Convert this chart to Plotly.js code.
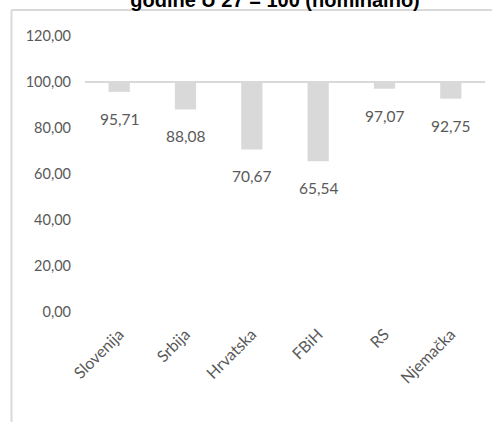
<!DOCTYPE html>
<html>
<head>
<meta charset="utf-8">
<script src="https://cdn.plot.ly/plotly-3.0.1.min.js"></script>
<style>
html,body{margin:0;padding:0;background:#fff;}
#chart{width:492px;height:422px;}
</style>
</head>
<body>
<div id="chart"></div>
<script>
const categories = ["Slovenija", "Srbija", "Hrvatska", "FBiH", "RS", "Njemačka"];
const values = [95.71, 88.08, 70.67, 65.54, 97.07, 92.75];
const baseValue = 100;
const yTicks = [0, 20, 40, 60, 80, 100, 120];
const titleText = "godine U 27 = 100 (nominalno)";

const fmt = v => v.toFixed(2).replace('.', ',');
const grey = '#595959';
const light = '#d9d9d9';
const font = 'Lato, "Open Sans", sans-serif';

const trace = {
  type: 'bar',
  x: categories,
  y: values.map(v => v - baseValue),
  base: values.map(() => baseValue),
  width: 0.32,
  marker: {color: light},
  hoverinfo: 'skip'
};

const annotations = categories.map((c, i) => ({
  x: c, y: values[i], xref: 'x', yref: 'y',
  text: fmt(values[i]), showarrow: false,
  yanchor: 'middle', xanchor: 'center', yshift: -27,
  font: {family: font, size: 15.5, color: grey}
}));

const layout = {
  width: 492, height: 422,
  margin: {l: 86, r: 8, t: 36, b: 110},
  paper_bgcolor: '#fff', plot_bgcolor: '#fff',
  separators: ',.',
  showlegend: false,
  title: {
    text: titleText,
    xref: 'container', yref: 'container',
    x: 0.559, xanchor: 'center', y: 1.0, yanchor: 'middle',
    font: {family: '"Liberation Sans", Arial, sans-serif', size: 20, color: '#000', weight: 'bold'}
  },
  xaxis: {
    type: 'category',
    range: [-0.5, 5.5],
    tickangle: -45,
    ticks: '',
    showline: false, showgrid: false, zeroline: false,
    tickfont: {family: font, size: 16, color: grey},
    ticklabelstandoff: 9
  },
  yaxis: {
    range: [0, 120],
    tickvals: yTicks,
    tickformat: '.2f',
    ticks: '',
    showline: false, showgrid: false, zeroline: false,
    tickfont: {family: font, size: 14.5, color: grey},
    ticklabelstandoff: 14
  },
  shapes: [
    {type: 'line', xref: 'paper', yref: 'y', x0: -0.003, x1: 1.003, y0: baseValue, y1: baseValue,
     line: {color: light, width: 2}, layer: 'above'},
    {type: 'line', xref: 'paper', yref: 'paper', x0: -0.1872, x1: -0.1872, y0: 1.0942, y1: -0.41,
     line: {color: light, width: 2}},
    {type: 'line', xref: 'paper', yref: 'paper', x0: -0.1872, x1: 1.03, y0: 1.0942, y1: 1.0942,
     line: {color: light, width: 2}}
  ],
  annotations: annotations
};

Plotly.newPlot('chart', [trace], layout, {displayModeBar: false, staticPlot: true});
</script>
</body>
</html>
